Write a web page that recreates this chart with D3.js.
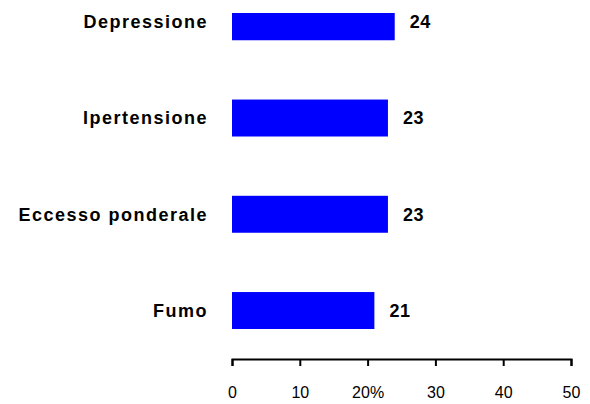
<!DOCTYPE html>
<html lang="it">
<head>
<meta charset="UTF-8">
<title>Fattori di rischio</title>
<script src="https://d3js.org/d3.v7.min.js"></script>
<style>
    body { margin: 0; padding: 0; background: #fff; }
    svg { display: block; font-family: Arial, 'Liberation Sans', sans-serif; }
    .cat { font-size: 18px; font-weight: bold; letter-spacing: 1.5px; fill: #000; }
    .val { font-size: 18px; font-weight: bold; letter-spacing: 0.5px; fill: #000; }
    .axis text { font-size: 16px; fill: #000; font-family: Arial, 'Liberation Sans', sans-serif; }
    .axis path, .axis line { stroke: #000; stroke-width: 2px; }
</style>
</head>
<body>
<script>
    // data
    var categories = ["Depressione", "Ipertensione", "Eccesso ponderale", "Fumo"];
    var values = [24, 23, 23, 21];
    var tickValues = [0, 10, 20, 30, 40, 50];
    var tickLabels = ["0", "10", "20%", "30", "40", "50"];

    var width = 590, height = 404;

    var svg = d3.select("body").append("svg")
        .attr("width", width)
        .attr("height", height);

    var x = d3.scaleLinear().domain([0, 50]).range([232, 571]);
    var y = d3.scaleBand().domain(categories).range([3.3, 329]).paddingInner(0.616).paddingOuter(0);

    // top of the picture cuts the first bar
    svg.append("clipPath").attr("id", "clip")
        .append("rect").attr("x", 0).attr("y", 13).attr("width", width).attr("height", height);

    var rows = categories.map(function(c, i) { return { cat: c, val: values[i] }; });

    svg.append("g").attr("clip-path", "url(#clip)")
        .selectAll("rect")
        .data(rows)
        .enter().append("rect")
        .attr("x", x(0))
        .attr("y", function(d) { return y(d.cat); })
        .attr("width", function(d) { return x(d.val) - x(0); })
        .attr("height", y.bandwidth())
        .attr("fill", "#0000ff");

    svg.append("g").selectAll("text")
        .data(rows)
        .enter().append("text")
        .attr("class", "cat")
        .attr("x", 208)
        .attr("y", function(d) { return y(d.cat) + y.bandwidth() / 2; })
        .attr("dy", "0.35em")
        .attr("text-anchor", "end")
        .text(function(d) { return d.cat; });

    svg.append("g").selectAll("text")
        .data(rows)
        .enter().append("text")
        .attr("class", "val")
        .attr("x", function(d) { return x(d.val) + 15; })
        .attr("y", function(d) { return y(d.cat) + y.bandwidth() / 2; })
        .attr("dy", "0.35em")
        .text(function(d) { return d.val; });

    var axis = d3.axisBottom(x)
        .tickValues(tickValues)
        .tickFormat(function(d, i) { return tickLabels[i]; })
        .tickSize(7)
        .tickSizeOuter(7)
        .tickPadding(21);

    svg.append("g")
        .attr("class", "axis")
        .attr("transform", "translate(0,359)")
        .call(axis);
</script>
</body>
</html>
